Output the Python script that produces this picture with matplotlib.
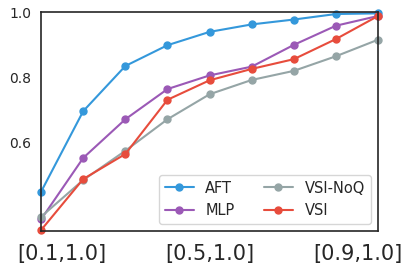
import matplotlib
matplotlib.use('Agg')
import matplotlib.pyplot as plt
import seaborn as sns

sns.set_style('white')

x = [0.1, 0.2, 0.3, 0.4, 0.5, 0.6, 0.7, 0.8, 0.9]
aft = [0.447, 0.695, 0.834, 0.898, 0.939, 0.962, 0.977, 0.994, 0.996]
mlp = [0.362, 0.551, 0.670, 0.763, 0.805, 0.832, 0.899, 0.958, 0.988]
vsi_noq = [0.370, 0.483, 0.573, 0.670, 0.747, 0.791, 0.819, 0.864, 0.915]
vsi = [0.329, 0.486, 0.563, 0.730, 0.790, 0.825, 0.855, 0.917, 0.988]

# label spots sit a bit inside the ends in the original
xticks = [0.148, 0.5, 0.852]
xtick_labels = ['[0.1,1.0]', '[0.5,1.0]', '[0.9,1.0]']
yticks = [0.6, 0.8, 1.0]

fig = plt.figure(figsize=(4.07, 2.68), dpi=100)
ax = fig.add_axes([0.101, 0.138, 0.828, 0.817])

ax.plot(x, aft, '-o', color='#3498db', label='AFT', markersize=5, lw=1.5, clip_on=False)
ax.plot(x, mlp, '-o', color='#9b59b6', label='MLP', markersize=5, lw=1.5, clip_on=False)
ax.plot(x, vsi_noq, '-o', color='#95a5a6', label='VSI-NoQ', markersize=5, lw=1.5, clip_on=False)
ax.plot(x, vsi, '-o', color='#e74c3c', label='VSI', markersize=5, lw=1.5, clip_on=False)

ax.set_xlim(0.1, 0.9)
ax.set_ylim(0.326, 1.0)
ax.set_xticks(xticks)
ax.set_xticklabels(xtick_labels, fontsize=15)
ax.set_yticks(yticks)
ax.set_yticklabels(['0.6', '0.8', '1.0'], fontsize=10)
ax.tick_params(axis='x', pad=6)

for s in ax.spines.values():
    s.set_color('#262626')
    s.set_linewidth(1.2)

ax.legend(loc='lower right', ncol=2, fontsize=10.5)

fig.savefig('out.png', dpi=100)
